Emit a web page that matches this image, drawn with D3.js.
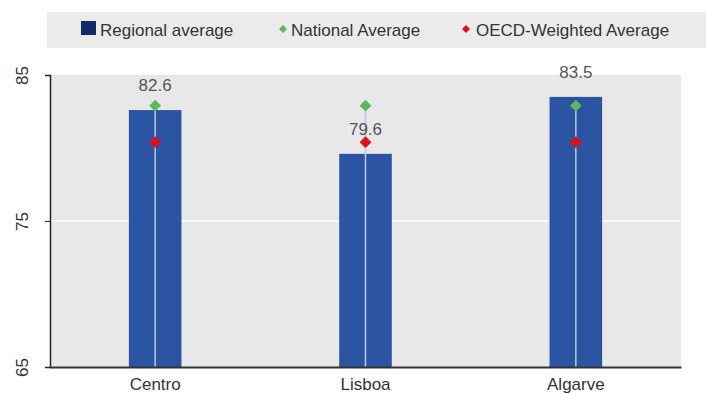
<!DOCTYPE html>
<html>
<head>
<meta charset="utf-8">
<script src="https://cdn.jsdelivr.net/npm/d3@7"></script>
<style>
  body { margin: 0; background: #fff; }
  text { font-family: "Liberation Sans Narrow", "Liberation Sans", Arial, sans-serif; }
</style>
</head>
<body>
<div id="chart"></div>
<script>
var regions = ['Centro', 'Lisboa', 'Algarve'];
var regionalAvg = [82.6, 79.6, 83.5];
var nationalAvg = [82.9, 82.9, 82.9];
var oecdAvg = [80.4, 80.4, 80.4];
var yTicks = [65, 75, 85];
var legendLabels = ['Regional average', 'National Average', 'OECD-Weighted Average'];

var W = 706, H = 394;
var plotL = 50, plotR = 681, plotT = 75, plotB = 367;

var svg = d3.select('#chart').append('svg')
  .attr('width', W)
  .attr('height', H);

// legend band
svg.append('rect')
  .attr('x', 47).attr('y', 12)
  .attr('width', W - 47).attr('height', 36)
  .attr('fill', '#ebebeb');

var leg = svg.append('g');
leg.append('rect')
  .attr('x', 81).attr('y', 21).attr('width', 15).attr('height', 14)
  .attr('fill', '#0f2a6b');
leg.append('text').attr('x', 100).attr('y', 36)
  .attr('font-size', 17).attr('fill', '#333').text(legendLabels[0]);
leg.append('path')
  .attr('d', d3.symbol(d3.symbolDiamond2, 40)())
  .attr('transform', 'translate(283,29)')
  .attr('fill', '#5cb85c');
leg.append('text').attr('x', 291).attr('y', 36)
  .attr('font-size', 17).attr('fill', '#333').text(legendLabels[1]);
leg.append('path')
  .attr('d', d3.symbol(d3.symbolDiamond2, 40)())
  .attr('transform', 'translate(466,29)')
  .attr('fill', '#e0101a');
leg.append('text').attr('x', 476).attr('y', 36)
  .attr('font-size', 17).attr('fill', '#333').text(legendLabels[2]);

var x = d3.scaleBand().domain(regions).range([plotL, plotR]).paddingInner(0.75).paddingOuter(0.375);
var y = d3.scaleLinear().domain([65, 85]).range([plotB, plotT]);

// plot background
svg.append('rect')
  .attr('x', plotL).attr('y', plotT)
  .attr('width', plotR - plotL).attr('height', plotB - plotT)
  .attr('fill', '#e8e8e8');

// gridlines
svg.selectAll('.grid').data(yTicks.slice(1, -1))
  .enter().append('line')
  .attr('x1', plotL).attr('x2', plotR)
  .attr('y1', function (d) { return y(d); })
  .attr('y2', function (d) { return y(d); })
  .attr('stroke', '#fff').attr('stroke-width', 1.5);

// bars
svg.selectAll('.bar').data(regions)
  .enter().append('rect')
  .attr('x', function (d) { return x(d); })
  .attr('y', function (d, i) { return y(regionalAvg[i]); })
  .attr('width', x.bandwidth())
  .attr('height', function (d, i) { return plotB - y(regionalAvg[i]); })
  .attr('fill', '#2b55a2');

// thin line through bar centre
svg.selectAll('.stem').data(regions)
  .enter().append('line')
  .attr('x1', function (d) { return x(d) + x.bandwidth() / 2; })
  .attr('x2', function (d) { return x(d) + x.bandwidth() / 2; })
  .attr('y1', function (d, i) { return y(nationalAvg[i]); })
  .attr('y2', plotB)
  .attr('stroke', '#b9c9e6').attr('stroke-width', 1.5);

// markers
svg.selectAll('.nat').data(regions)
  .enter().append('path')
  .attr('d', d3.symbol(d3.symbolDiamond2, 90)())
  .attr('transform', function (d, i) {
    return 'translate(' + (x(d) + x.bandwidth() / 2) + ',' + y(nationalAvg[i]) + ')';
  })
  .attr('fill', '#5cb85c');

svg.selectAll('.oecd').data(regions)
  .enter().append('path')
  .attr('d', d3.symbol(d3.symbolDiamond2, 90)())
  .attr('transform', function (d, i) {
    return 'translate(' + (x(d) + x.bandwidth() / 2) + ',' + y(oecdAvg[i]) + ')';
  })
  .attr('fill', '#e0101a');

// value labels
svg.selectAll('.val').data(regions)
  .enter().append('text')
  .attr('x', function (d) { return x(d) + x.bandwidth() / 2; })
  .attr('y', function (d, i) { return y(regionalAvg[i]) - 19; })
  .attr('text-anchor', 'middle')
  .attr('font-size', 17).attr('fill', '#555')
  .text(function (d, i) { return regionalAvg[i].toFixed(1); });

// y axis
var yAxis = svg.append('g')
  .attr('transform', 'translate(' + plotL + ',0)')
  .call(d3.axisLeft(y).tickValues(yTicks).tickSize(5).tickFormat(d3.format('d')));
yAxis.select('.domain').attr('stroke', '#222').attr('stroke-width', 1.5);
yAxis.selectAll('.tick line').attr('stroke', '#222');
yAxis.selectAll('.tick text')
  .attr('font-size', 17).attr('fill', '#333')
  .attr('x', 0).attr('dy', 0)
  .attr('text-anchor', 'middle')
  .attr('transform', 'translate(-26,0) rotate(-90)')
  .attr('dominant-baseline', 'middle');

// x axis
var xAxis = svg.append('g')
  .attr('transform', 'translate(0,' + plotB + ')')
  .call(d3.axisBottom(x).tickSize(0));
xAxis.select('.domain').attr('stroke', '#333').attr('stroke-width', 2);
xAxis.selectAll('.tick text')
  .attr('font-size', 17).attr('fill', '#333').attr('dy', '1.15em');
</script>
</body>
</html>
